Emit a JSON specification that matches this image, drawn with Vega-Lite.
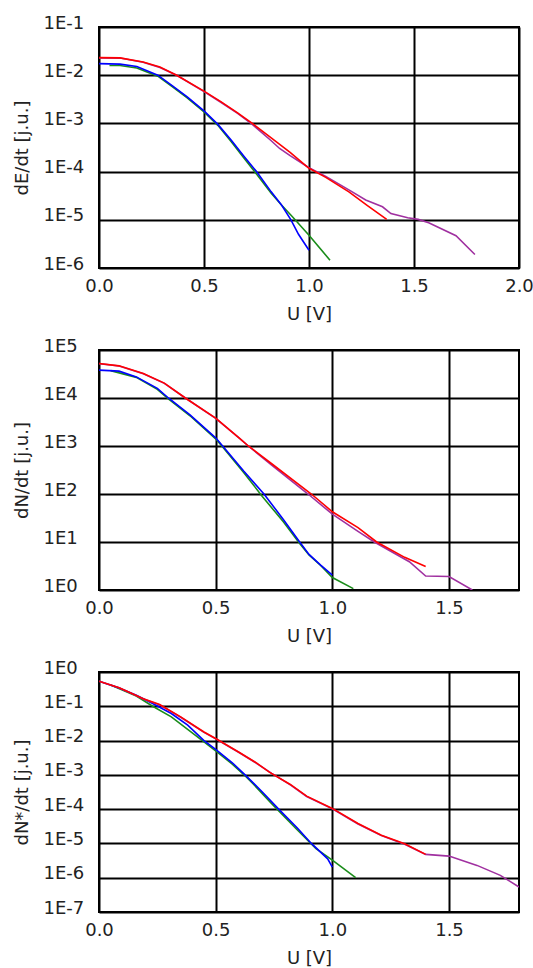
{
  "$schema": "https://vega.github.io/schema/vega-lite/v6.json",
  "background": "white",
  "autosize": {"type": "pad"},
  "padding": {"left": 11, "top": 13, "right": 0, "bottom": 0},
  "bounds": "flush",
  "spacing": 82,
  "config": {
    "font": "DejaVu Sans",
    "view": {"stroke": "#000000", "strokeWidth": 2},
    "axis": {
      "domain": false,
      "ticks": false,
      "tickSize": 0,
      "grid": true,
      "gridColor": "#000000",
      "gridWidth": 2,
      "gridOpacity": 1,
      "labelFont": "DejaVu Sans",
      "labelFontSize": 18,
      "labelColor": "#222222",
      "labelFlush": false,
      "labelOverlap": false,
      "labelBound": false,
      "titleFont": "DejaVu Sans",
      "titleFontSize": 18,
      "titleFontWeight": "normal",
      "titleColor": "#222222"
    },
    "axisX": {
      "labelBaseline": "alphabetic",
      "labelAlign": "center",
      "labelPadding": 23,
      "titleBaseline": "alphabetic",
      "titleY": 51
    },
    "axisY": {
      "labelAlign": "left",
      "labelBaseline": "alphabetic",
      "labelPadding": 56,
      "labelOffset": 1,
      "titleBaseline": "alphabetic",
      "titleX": -72
    }
  },
  "datasets": {
    "e": [
      {"s": "s4", "U": 0.05, "v": 0.01585},
      {"s": "s4", "U": 0.1, "v": 0.01585},
      {"s": "s4", "U": 0.18, "v": 0.01413},
      {"s": "s4", "U": 0.28, "v": 0.00955},
      {"s": "s4", "U": 0.35, "v": 0.00575},
      {"s": "s4", "U": 0.42, "v": 0.00339},
      {"s": "s4", "U": 0.5, "v": 0.00174},
      {"s": "s4", "U": 0.566, "v": 0.000912},
      {"s": "s4", "U": 0.63, "v": 0.000417},
      {"s": "s4", "U": 0.69, "v": 0.000191},
      {"s": "s4", "U": 0.75, "v": 8.91e-5},
      {"s": "s4", "U": 0.82, "v": 3.55e-5},
      {"s": "s4", "U": 0.87, "v": 2.0e-5},
      {"s": "s4", "U": 0.92, "v": 1.17e-5},
      {"s": "s4", "U": 1.0, "v": 4.79e-6},
      {"s": "s4", "U": 1.1, "v": 1.45e-6},
      {"s": "s3", "U": 0.0, "v": 0.01738},
      {"s": "s3", "U": 0.1, "v": 0.01698},
      {"s": "s3", "U": 0.18, "v": 0.01514},
      {"s": "s3", "U": 0.28, "v": 0.0100},
      {"s": "s3", "U": 0.35, "v": 0.00603},
      {"s": "s3", "U": 0.42, "v": 0.00355},
      {"s": "s3", "U": 0.5, "v": 0.00182},
      {"s": "s3", "U": 0.566, "v": 0.000955},
      {"s": "s3", "U": 0.63, "v": 0.000447},
      {"s": "s3", "U": 0.69, "v": 0.000209},
      {"s": "s3", "U": 0.75, "v": 0.0001},
      {"s": "s3", "U": 0.82, "v": 3.8e-5},
      {"s": "s3", "U": 0.87, "v": 2.0e-5},
      {"s": "s3", "U": 0.914, "v": 1.0e-5},
      {"s": "s3", "U": 0.95, "v": 5.01e-6},
      {"s": "s3", "U": 1.0, "v": 2.34e-6},
      {"s": "s2", "U": 0.0, "v": 0.0229},
      {"s": "s2", "U": 0.1, "v": 0.02265},
      {"s": "s2", "U": 0.21, "v": 0.01862},
      {"s": "s2", "U": 0.29, "v": 0.01445},
      {"s": "s2", "U": 0.37, "v": 0.0100},
      {"s": "s2", "U": 0.5, "v": 0.00457},
      {"s": "s2", "U": 0.58, "v": 0.00275},
      {"s": "s2", "U": 0.66, "v": 0.00162},
      {"s": "s2", "U": 0.73, "v": 0.000955},
      {"s": "s2", "U": 0.82, "v": 0.000437},
      {"s": "s2", "U": 0.86, "v": 0.000302},
      {"s": "s2", "U": 0.91, "v": 0.000214},
      {"s": "s2", "U": 1.0, "v": 0.00012},
      {"s": "s2", "U": 1.08, "v": 7.94e-5},
      {"s": "s2", "U": 1.19, "v": 4.17e-5},
      {"s": "s2", "U": 1.27, "v": 2.57e-5},
      {"s": "s2", "U": 1.35, "v": 1.86e-5},
      {"s": "s2", "U": 1.39, "v": 1.35e-5},
      {"s": "s2", "U": 1.47, "v": 1.1e-5},
      {"s": "s2", "U": 1.52, "v": 1.02e-5},
      {"s": "s2", "U": 1.57, "v": 8.71e-6},
      {"s": "s2", "U": 1.7, "v": 4.68e-6},
      {"s": "s2", "U": 1.79, "v": 1.91e-6},
      {"s": "s1", "U": 0.0, "v": 0.02317},
      {"s": "s1", "U": 0.1, "v": 0.02291},
      {"s": "s1", "U": 0.21, "v": 0.01884},
      {"s": "s1", "U": 0.29, "v": 0.01479},
      {"s": "s1", "U": 0.37, "v": 0.0100},
      {"s": "s1", "U": 0.5, "v": 0.004677},
      {"s": "s1", "U": 0.58, "v": 0.00282},
      {"s": "s1", "U": 0.66, "v": 0.00166},
      {"s": "s1", "U": 0.73, "v": 0.0010},
      {"s": "s1", "U": 0.82, "v": 0.000501},
      {"s": "s1", "U": 0.91, "v": 0.000251},
      {"s": "s1", "U": 1.0, "v": 0.000117},
      {"s": "s1", "U": 1.08, "v": 7.59e-5},
      {"s": "s1", "U": 1.19, "v": 3.8e-5},
      {"s": "s1", "U": 1.28, "v": 1.95e-5},
      {"s": "s1", "U": 1.37, "v": 1.02e-5}
    ],
    "n": [
      {"s": "s4", "U": 0.05, "v": 37150},
      {"s": "s4", "U": 0.16, "v": 26920},
      {"s": "s4", "U": 0.25, "v": 15140},
      {"s": "s4", "U": 0.3, "v": 9333},
      {"s": "s4", "U": 0.39, "v": 4266},
      {"s": "s4", "U": 0.5, "v": 1413},
      {"s": "s4", "U": 0.53, "v": 955},
      {"s": "s4", "U": 0.62, "v": 282},
      {"s": "s4", "U": 0.7, "v": 89.1},
      {"s": "s4", "U": 0.79, "v": 26.3},
      {"s": "s4", "U": 0.86, "v": 9.33},
      {"s": "s4", "U": 0.9, "v": 5.37},
      {"s": "s4", "U": 0.95, "v": 3.24},
      {"s": "s4", "U": 1.0, "v": 1.82},
      {"s": "s4", "U": 1.09, "v": 1.07},
      {"s": "s3", "U": 0.0, "v": 38020},
      {"s": "s3", "U": 0.086, "v": 36310},
      {"s": "s3", "U": 0.16, "v": 27540},
      {"s": "s3", "U": 0.25, "v": 15850},
      {"s": "s3", "U": 0.3, "v": 9772},
      {"s": "s3", "U": 0.39, "v": 4467},
      {"s": "s3", "U": 0.5, "v": 1479},
      {"s": "s3", "U": 0.53, "v": 1000},
      {"s": "s3", "U": 0.62, "v": 302},
      {"s": "s3", "U": 0.707, "v": 100},
      {"s": "s3", "U": 0.79, "v": 29.5},
      {"s": "s3", "U": 0.86, "v": 10.0},
      {"s": "s3", "U": 0.9, "v": 5.5},
      {"s": "s3", "U": 0.95, "v": 3.31},
      {"s": "s3", "U": 1.0, "v": 2.04},
      {"s": "s2", "U": 0.0, "v": 52000},
      {"s": "s2", "U": 0.086, "v": 46500},
      {"s": "s2", "U": 0.19, "v": 32000},
      {"s": "s2", "U": 0.28, "v": 20200},
      {"s": "s2", "U": 0.37, "v": 10000},
      {"s": "s2", "U": 0.5, "v": 3780},
      {"s": "s2", "U": 0.6, "v": 1480},
      {"s": "s2", "U": 0.64, "v": 1000},
      {"s": "s2", "U": 0.74, "v": 398},
      {"s": "s2", "U": 0.896, "v": 100},
      {"s": "s2", "U": 1.0, "v": 38.0},
      {"s": "s2", "U": 1.11, "v": 16.6},
      {"s": "s2", "U": 1.18, "v": 10.0},
      {"s": "s2", "U": 1.33, "v": 3.89},
      {"s": "s2", "U": 1.4, "v": 1.95},
      {"s": "s2", "U": 1.5, "v": 1.905},
      {"s": "s2", "U": 1.6, "v": 1.0},
      {"s": "s1", "U": 0.0, "v": 52480},
      {"s": "s1", "U": 0.086, "v": 46770},
      {"s": "s1", "U": 0.19, "v": 32360},
      {"s": "s1", "U": 0.28, "v": 20420},
      {"s": "s1", "U": 0.37, "v": 10000},
      {"s": "s1", "U": 0.5, "v": 3802},
      {"s": "s1", "U": 0.6, "v": 1480},
      {"s": "s1", "U": 0.64, "v": 1000},
      {"s": "s1", "U": 0.74, "v": 426.6},
      {"s": "s1", "U": 0.91, "v": 100},
      {"s": "s1", "U": 1.0, "v": 42.66},
      {"s": "s1", "U": 1.11, "v": 19.95},
      {"s": "s1", "U": 1.19, "v": 10.0},
      {"s": "s1", "U": 1.31, "v": 4.79},
      {"s": "s1", "U": 1.4, "v": 3.09}
    ],
    "ns": [
      {"s": "s4", "U": 0.05, "v": 0.417},
      {"s": "s4", "U": 0.16, "v": 0.1995},
      {"s": "s4", "U": 0.23, "v": 0.1},
      {"s": "s4", "U": 0.31, "v": 0.049},
      {"s": "s4", "U": 0.45, "v": 0.00912},
      {"s": "s4", "U": 0.5, "v": 0.0050},
      {"s": "s4", "U": 0.57, "v": 0.00209},
      {"s": "s4", "U": 0.63, "v": 0.000891},
      {"s": "s4", "U": 0.66, "v": 0.00055},
      {"s": "s4", "U": 0.74, "v": 0.000145},
      {"s": "s4", "U": 0.845, "v": 2.69e-5},
      {"s": "s4", "U": 0.93, "v": 7.08e-6},
      {"s": "s4", "U": 1.0, "v": 3.24e-6},
      {"s": "s4", "U": 1.1, "v": 1.0e-6},
      {"s": "s3", "U": 0.0, "v": 0.537},
      {"s": "s3", "U": 0.086, "v": 0.339},
      {"s": "s3", "U": 0.16, "v": 0.209},
      {"s": "s3", "U": 0.23, "v": 0.12},
      {"s": "s3", "U": 0.31, "v": 0.0617},
      {"s": "s3", "U": 0.38, "v": 0.0282},
      {"s": "s3", "U": 0.45, "v": 0.01},
      {"s": "s3", "U": 0.5, "v": 0.0055},
      {"s": "s3", "U": 0.57, "v": 0.00229},
      {"s": "s3", "U": 0.626, "v": 0.001},
      {"s": "s3", "U": 0.7, "v": 0.000316},
      {"s": "s3", "U": 0.77, "v": 0.0001},
      {"s": "s3", "U": 0.85, "v": 2.82e-5},
      {"s": "s3", "U": 0.91, "v": 1.0e-5},
      {"s": "s3", "U": 0.98, "v": 3.55e-6},
      {"s": "s3", "U": 1.0, "v": 2.04e-6},
      {"s": "s2", "U": 0.0, "v": 0.537},
      {"s": "s2", "U": 0.086, "v": 0.345},
      {"s": "s2", "U": 0.12, "v": 0.272},
      {"s": "s2", "U": 0.19, "v": 0.164},
      {"s": "s2", "U": 0.26, "v": 0.11},
      {"s": "s2", "U": 0.35, "v": 0.048},
      {"s": "s2", "U": 0.45, "v": 0.0174},
      {"s": "s2", "U": 0.5, "v": 0.0112},
      {"s": "s2", "U": 0.6, "v": 0.00447},
      {"s": "s2", "U": 0.67, "v": 0.00229},
      {"s": "s2", "U": 0.74, "v": 0.00110},
      {"s": "s2", "U": 0.82, "v": 0.000513},
      {"s": "s2", "U": 0.89, "v": 0.000234},
      {"s": "s2", "U": 1.0, "v": 0.000102},
      {"s": "s2", "U": 1.11, "v": 3.7e-5},
      {"s": "s2", "U": 1.21, "v": 1.7e-5},
      {"s": "s2", "U": 1.31, "v": 9.5e-6},
      {"s": "s2", "U": 1.4, "v": 4.8e-6},
      {"s": "s2", "U": 1.5, "v": 4.27e-6},
      {"s": "s2", "U": 1.62, "v": 2.29e-6},
      {"s": "s2", "U": 1.72, "v": 1.17e-6},
      {"s": "s2", "U": 1.8, "v": 5.37e-7},
      {"s": "s1", "U": 0.0, "v": 0.537},
      {"s": "s1", "U": 0.086, "v": 0.347},
      {"s": "s1", "U": 0.12, "v": 0.275},
      {"s": "s1", "U": 0.19, "v": 0.166},
      {"s": "s1", "U": 0.26, "v": 0.112},
      {"s": "s1", "U": 0.35, "v": 0.049},
      {"s": "s1", "U": 0.45, "v": 0.0178},
      {"s": "s1", "U": 0.5, "v": 0.01148},
      {"s": "s1", "U": 0.6, "v": 0.00457},
      {"s": "s1", "U": 0.67, "v": 0.00234},
      {"s": "s1", "U": 0.73, "v": 0.0012},
      {"s": "s1", "U": 0.82, "v": 0.000525},
      {"s": "s1", "U": 0.89, "v": 0.00024},
      {"s": "s1", "U": 1.0, "v": 0.000105},
      {"s": "s1", "U": 1.11, "v": 3.8e-5},
      {"s": "s1", "U": 1.21, "v": 1.74e-5},
      {"s": "s1", "U": 1.31, "v": 9.8e-6},
      {"s": "s1", "U": 1.4, "v": 4.8e-6}
    ]
  },
  "vconcat": [
    {
      "width": 420,
      "height": 241,
      "data": {"name": "e"},
      "mark": {"type": "line", "strokeWidth": 1.6, "clip": true},
      "encoding": {
        "x": {"field": "U", "type": "quantitative", "scale": {"domain": [0, 2], "nice": false, "zero": false},
              "axis": {"title": "U [V]", "values": [0, 0.5, 1, 1.5, 2], "format": ".1f"}},
        "y": {"field": "v", "type": "quantitative", "scale": {"type": "log", "domain": [1e-6, 0.1], "nice": false},
              "axis": {"title": "dE/dt [j.u.]", "values": [1e-6, 1e-5, 1e-4, 1e-3, 1e-2, 1e-1], "labelExpr": "'1E' + round(log(datum.value) / LN10)"}},
        "color": {"field": "s", "type": "nominal", "legend": null,
                  "scale": {"domain": ["s1", "s2", "s3", "s4"], "range": ["#ff0000", "#a030a0", "#0000ff", "#1a8c1a"]}}
      }
    },
    {
      "width": 420,
      "height": 240,
      "data": {"name": "n"},
      "mark": {"type": "line", "strokeWidth": 1.6, "clip": true},
      "encoding": {
        "x": {"field": "U", "type": "quantitative", "scale": {"domain": [0, 1.8], "nice": false, "zero": false},
              "axis": {"title": "U [V]", "values": [0, 0.5, 1, 1.5], "format": ".1f"}},
        "y": {"field": "v", "type": "quantitative", "scale": {"type": "log", "domain": [1, 100000], "nice": false},
              "axis": {"title": "dN/dt [j.u.]", "values": [1, 10, 100, 1000, 10000, 100000], "labelExpr": "'1E' + round(log(datum.value) / LN10)"}},
        "color": {"field": "s", "type": "nominal", "legend": null,
                  "scale": {"domain": ["s1", "s2", "s3", "s4"], "range": ["#ff0000", "#a030a0", "#0000ff", "#1a8c1a"]}}
      }
    },
    {
      "width": 420,
      "height": 240,
      "data": {"name": "ns"},
      "mark": {"type": "line", "strokeWidth": 1.6, "clip": true},
      "encoding": {
        "x": {"field": "U", "type": "quantitative", "scale": {"domain": [0, 1.8], "nice": false, "zero": false},
              "axis": {"title": "U [V]", "values": [0, 0.5, 1, 1.5], "format": ".1f"}},
        "y": {"field": "v", "type": "quantitative", "scale": {"type": "log", "domain": [1e-7, 1], "nice": false},
              "axis": {"title": "dN*/dt [j.u.]", "values": [1e-7, 1e-6, 1e-5, 1e-4, 1e-3, 1e-2, 1e-1, 1], "labelExpr": "'1E' + round(log(datum.value) / LN10)"}},
        "color": {"field": "s", "type": "nominal", "legend": null,
                  "scale": {"domain": ["s1", "s2", "s3", "s4"], "range": ["#ff0000", "#a030a0", "#0000ff", "#1a8c1a"]}}
      }
    }
  ]
}
